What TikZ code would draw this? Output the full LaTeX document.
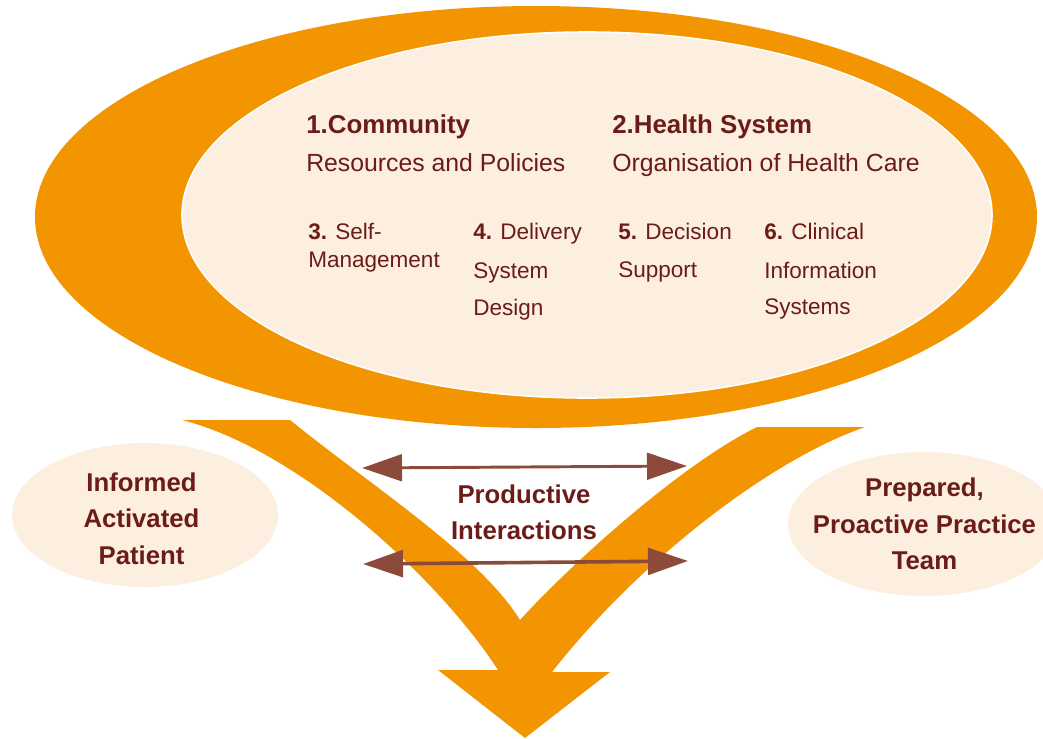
\documentclass[tikz,border=0pt]{standalone}
\usepackage{fontspec}
\setmainfont{Liberation Sans}
\usetikzlibrary{arrows.meta}
\definecolor{orng}{HTML}{F29500}
\definecolor{cream}{HTML}{FDEFDF}
\definecolor{maroon}{HTML}{6B1C19}
\definecolor{brownarrow}{HTML}{8C4B3A}
\begin{document}
\begin{tikzpicture}[x=0.75pt,y=-0.75pt,
  lt/.style={text=maroon, inner sep=0pt, anchor=base west},
  ct/.style={text=maroon, inner sep=0pt, anchor=base},
  head/.style={font=\fontsize{19.4}{23}\selectfont\bfseries},
  sub/.style={font=\fontsize{18.6}{22}\selectfont},
  small/.style={font=\fontsize{16.9}{20}\selectfont},
  big/.style={font=\fontsize{19.3}{23}\selectfont\bfseries},
  dbl/.style={draw=brownarrow, {Triangle[length=30pt,width=20pt]}-{Triangle[length=30pt,width=20pt]}}
]
\useasboundingbox (0,0) rectangle (1043,739);
% big rings
\fill[orng] (536,217) ellipse [x radius=501, y radius=211];
\filldraw[fill=cream, draw=white, line width=1.2pt] (587,215) ellipse [x radius=405, y radius=183];
% side ellipses
\fill[cream] (145,515) ellipse [x radius=133, y radius=72];
\fill[cream] (924,524) ellipse [x radius=136, y radius=72];
% V arrow
\fill[orng] (182,420) -- (290,420) .. controls (370,485) and (480,555) .. (520,620)
  .. controls (570,565) and (680,465) .. (757,427) -- (865,427)
  .. controls (770,460) and (640,560) .. (552,672) -- (610,672) -- (525,738) -- (438,670) -- (498,670)
  .. controls (440,580) and (300,450) .. (182,420) -- cycle;
% double arrows
\coordinate (u1) at (362,468);
\coordinate (u2) at (687,466);
\coordinate (l1) at (363,564);
\coordinate (l2) at (688,561);
\draw[dbl, line width=2.2pt] (u1) -- (u2);
\draw[dbl, line width=2.7pt] (l1) -- (l2);
% top texts
\node[lt, head] (c1) at (306,133) {1.Community};
\node[lt, sub] (c1b) at (306,171) {Resources and Policies};
\node[lt, head] (h2) at (612,133) {2.Health System};
\node[lt, sub] (h2b) at (612,171) {Organisation of Health Care};
\node[lt, small] (s3a) at (308,239) {\textbf{3.} Self-};
\node[lt, small] (s3b) at (308,267) {Management};
\node[lt, small] (s4a) at (473,239) {\textbf{4.} Delivery};
\node[lt, small] (s4b) at (473,278) {System};
\node[lt, small] (s4c) at (473,315) {Design};
\node[lt, small] (s5a) at (618,239) {\textbf{5.} Decision};
\node[lt, small] (s5b) at (618,277) {Support};
\node[lt, small] (s6a) at (764,239) {\textbf{6.} Clinical};
\node[lt, small] (s6b) at (764,278) {Information};
\node[lt, small] (s6c) at (764,314) {Systems};
% bottom texts
\node[ct, big] (p1) at (141.5,491) {Informed};
\node[ct, big] (p2) at (141.5,527) {Activated};
\node[ct, big] (p3) at (141.5,564) {Patient};
\node[ct, big] (t1) at (924.5,496) {Prepared,};
\node[ct, big] (t2) at (924.5,533) {Proactive Practice};
\node[ct, big] (t3) at (924.5,569) {Team};
\node[ct, big] (i1) at (524,503) {Productive};
\node[ct, big] (i2) at (524,539) {Interactions};
\end{tikzpicture}
\end{document}
